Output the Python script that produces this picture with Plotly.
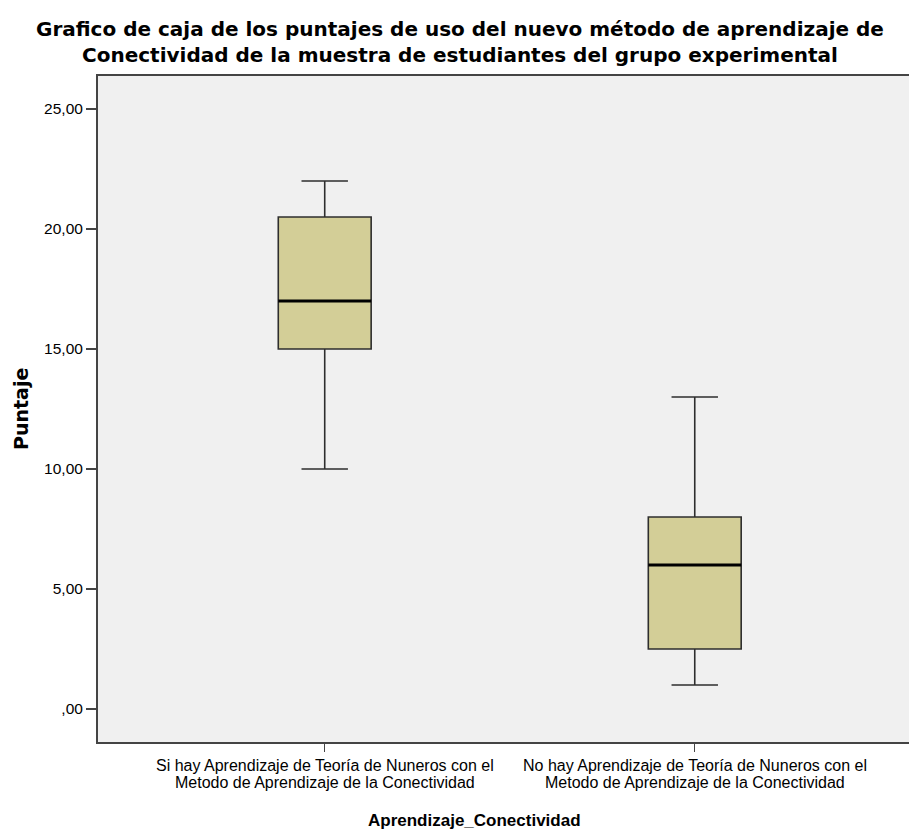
import plotly.graph_objects as go

categories = [
    "Si hay Aprendizaje de Teoría de Nuneros con el<br>Metodo de Aprendizaje de la Conectividad",
    "No hay Aprendizaje de Teoría de Nuneros con el<br>Metodo de Aprendizaje de la Conectividad",
]
lower_whisker = [10.0, 1.0]
q1_values = [15.0, 2.5]
median_values = [17.0, 6.0]
q3_values = [20.5, 8.0]
upper_whisker = [22.0, 13.0]
y_tick_vals = [0, 5, 10, 15, 20, 25]
y_tick_text = [",00", "5,00", "10,00", "15,00", "20,00", "25,00"]
title_text = ("Grafico de caja de los puntajes de uso del nuevo método de aprendizaje de<br>"
              "Conectividad de la muestra de estudiantes del grupo experimental")
x_title = "Aprendizaje_Conectividad"
y_title = "Puntaje"

positions = list(range(len(categories)))
box_w = 0.251
fill = "#D3CE97"
edge = "#2e2e2e"
font = "Liberation Sans, Arial, sans-serif"

fig = go.Figure()
fig.add_trace(go.Box(
    x=positions, q1=q1_values, median=median_values, q3=q3_values,
    lowerfence=lower_whisker, upperfence=upper_whisker,
    width=box_w, whiskerwidth=0.5,
    fillcolor=fill, line=dict(color=edge, width=1.6),
    showlegend=False, hoverinfo="skip",
))
for p, m in zip(positions, median_values):
    fig.add_trace(go.Scatter(
        x=[p - box_w / 2, p + box_w / 2], y=[m, m], mode="lines",
        line=dict(color="black", width=3.2), showlegend=False, hoverinfo="skip",
    ))

annotations = []
# category labels, line by line (tight leading as in the reference)
for p, cat in zip(positions, categories):
    for k, line in enumerate(cat.split("<br>")):
        annotations.append(dict(
            x=p, xref="x", y=0, yref="paper", yanchor="top", xanchor="center",
            yshift=-13 - k * 16.7, text=line, showarrow=False,
            font=dict(size=16, family=font, color="black"),
        ))
annotations.append(dict(
    x=(474 - 98) / 811, xref="paper", y=0, yref="paper", xanchor="center", yanchor="middle",
    yshift=-78, text="<b>" + x_title + "</b>", showarrow=False,
    font=dict(size=17, family=font, color="black"),
))
annotations.append(dict(
    x=0, xref="paper", y=0.5, yref="paper", xanchor="center", yanchor="middle",
    xshift=-77, textangle=-90, text="<b>" + y_title + "</b>", showarrow=False,
    font=dict(size=19, family="DejaVu Sans, sans-serif", color="black"),
))
annotations.append(dict(
    x=(460 - 98) / 811, xref="paper", y=1, yref="paper", xanchor="center", yanchor="middle",
    yshift=34, text="<b>" + title_text + "</b>", showarrow=False,
    font=dict(size=20, family="DejaVu Sans, sans-serif", color="black"),
))

fig.update_layout(
    width=909, height=831,
    margin=dict(l=98, r=0, t=76, b=89),
    paper_bgcolor="white", plot_bgcolor="#F0F0F0",
    font=dict(family=font, color="black"),
    annotations=annotations,
    xaxis=dict(
        range=[-0.6127, 1.579], tickvals=positions, showticklabels=False,
        showline=True, linecolor="#444", linewidth=2, mirror=True,
        ticks="outside", ticklen=8, tickwidth=1, tickcolor="#444",
        showgrid=False, zeroline=False,
    ),
    yaxis=dict(
        range=[-1.375, 26.375], tickvals=y_tick_vals, ticktext=y_tick_text,
        showline=True, linecolor="#444", linewidth=2, mirror=False,
        ticks="outside", ticklen=10, tickwidth=2, tickcolor="#444",
        showgrid=False, zeroline=False,
        tickfont=dict(size=15.5, family=font),
    ),
)
fig.write_html("out.html", config={"displayModeBar": False},
               post_script="document.body.style.margin='0';")
